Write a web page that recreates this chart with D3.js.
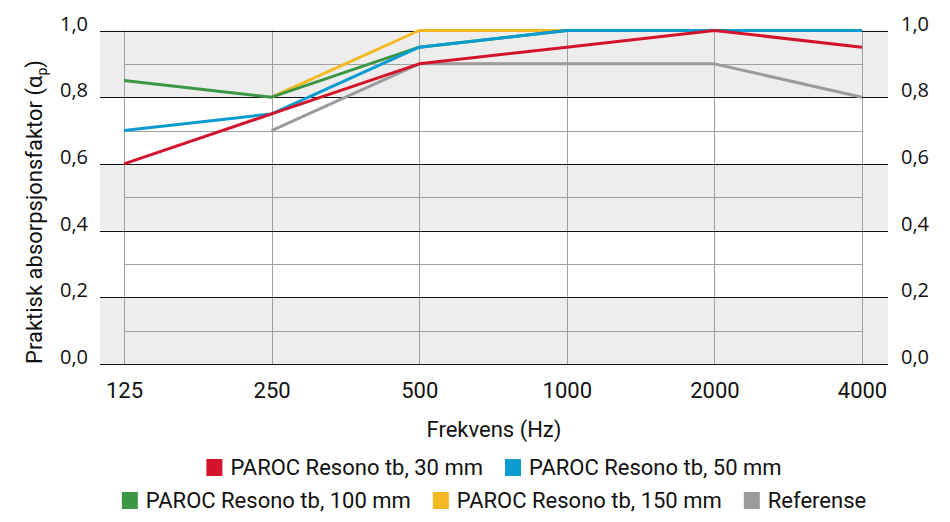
<!DOCTYPE html>
<html>
<head>
<meta charset="utf-8">
<script src="https://cdn.jsdelivr.net/npm/d3@7"></script>
<style>
  body { margin: 0; background: #fff; }
  svg { display: block; }
  .tick-label { font-family: "Open Sans", sans-serif; font-size: 20px; fill: #111; }
  .cat-label, .axis-title, .legend text { font-family: Roboto, sans-serif; font-size: 22px; fill: #111; }
</style>
</head>
<body>
<div id="chart"></div>
<script>
// data
const freqs = ['125', '250', '500', '1000', '2000', '4000'];
const seriesNames = ['PAROC Resono tb, 30 mm', 'PAROC Resono tb, 50 mm', 'PAROC Resono tb, 100 mm', 'PAROC Resono tb, 150 mm', 'Referense'];
const resono30 = [0.60, 0.75, 0.90, 0.95, 1.00, 0.95];
const resono50 = [0.70, 0.75, 0.95, 1.00, 1.00, 1.00];
const resono100 = [0.85, 0.80, 0.95, 1.00, 1.00, 1.00];
const resono150 = [null, 0.80, 1.00, 1.00, 1.00, 1.00];
const referense = [null, 0.70, 0.90, 0.90, 0.90, 0.80];
const majorTicks = [0, 0.2, 0.4, 0.6, 0.8, 1.0];
const minorTicks = [0.1, 0.3, 0.5, 0.7, 0.9];
const colors = ['#d3132a', '#0a9bd0', '#3c9745', '#f4b822', '#9b9b9b'];

const series = [resono30, resono50, resono100, resono150, referense].map((vals, i) => ({
    name: seriesNames[i],
    color: colors[i],
    values: vals.map((v, j) => ({ f: freqs[j], v: v }))
}));

const width = 950, height = 522;
const plotLeft = 100, plotRight = 888;

const svg = d3.select('#chart')
    .append('svg')
    .attr('width', width)
    .attr('height', height);

const x = d3.scalePoint()
    .domain(freqs)
    .range([124, 862]);

const y = d3.scaleLinear()
    .domain([0, 1])
    .range([364, 30.5]);

const fmt = d => d.toFixed(1).replace('.', ',');

// grey bands
const bands = [[0, 0.2], [0.4, 0.6], [0.8, 1.0]];
svg.append('g')
    .selectAll('rect')
    .data(bands)
    .join('rect')
    .attr('x', plotLeft)
    .attr('width', plotRight - plotLeft)
    .attr('y', d => y(d[1]))
    .attr('height', d => y(d[0]) - y(d[1]))
    .attr('fill', '#ededed');

// minor gridlines
svg.append('g')
    .selectAll('line')
    .data(minorTicks)
    .join('line')
    .attr('x1', x(freqs[0]))
    .attr('x2', x(freqs[freqs.length - 1]))
    .attr('y1', d => Math.round(y(d)) + 0.5)
    .attr('y2', d => Math.round(y(d)) + 0.5)
    .attr('stroke', '#a0a0a0')
    .attr('stroke-width', 1);

// vertical gridlines
svg.append('g')
    .selectAll('line')
    .data(freqs)
    .join('line')
    .attr('x1', d => Math.round(x(d)) + 0.5)
    .attr('x2', d => Math.round(x(d)) + 0.5)
    .attr('y1', y(1))
    .attr('y2', y(0))
    .attr('stroke', '#a0a0a0')
    .attr('stroke-width', 1);

// major gridlines
svg.append('g')
    .selectAll('line')
    .data(majorTicks)
    .join('line')
    .attr('x1', plotLeft)
    .attr('x2', plotRight)
    .attr('y1', d => Math.round(y(d)) + 0.5)
    .attr('y2', d => Math.round(y(d)) + 0.5)
    .attr('stroke', '#111')
    .attr('stroke-width', 1);

// y tick labels, both sides
svg.append('g')
    .selectAll('text')
    .data(majorTicks)
    .join('text')
    .attr('class', 'tick-label')
    .attr('x', 88)
    .attr('y', d => y(d))
    .attr('text-anchor', 'end')
    .text(fmt);

svg.append('g')
    .selectAll('text')
    .data(majorTicks)
    .join('text')
    .attr('class', 'tick-label')
    .attr('x', 901)
    .attr('y', d => y(d))
    .text(fmt);

// x axis labels
svg.append('g')
    .call(d3.axisBottom(x).tickSize(0).tickPadding(0))
    .attr('transform', 'translate(0,398)')
    .call(g => g.select('.domain').remove())
    .selectAll('text')
    .attr('class', 'cat-label')
    .attr('dy', 0)
    .attr('fill', '#111');

// lines, drawn so that the overlaps match
const line = d3.line()
    .defined(d => d.v !== null)
    .x(d => x(d.f))
    .y(d => y(d.v));

const drawOrder = [4, 3, 2, 1, 0];
svg.append('g')
    .selectAll('path')
    .data(drawOrder.map(i => series[i]))
    .join('path')
    .attr('d', d => line(d.values))
    .attr('fill', 'none')
    .attr('stroke', d => d.color)
    .attr('stroke-width', 3)
    .attr('stroke-linejoin', 'round');

// axis titles
svg.append('text')
    .attr('class', 'axis-title')
    .attr('x', 494)
    .attr('y', 437)
    .attr('text-anchor', 'middle')
    .text('Frekvens (Hz)');

const yTitle = svg.append('text')
    .attr('class', 'axis-title')
    .attr('transform', 'translate(42,212) rotate(-90)')
    .attr('text-anchor', 'middle');
yTitle.append('tspan').text('Praktisk absorpsjonsfaktor (α');
yTitle.append('tspan').attr('font-size', 14).attr('dy', 5).text('p');
yTitle.append('tspan').attr('dy', -5).text(')');

// legend, two centred rows
const legendRows = [[0, 1], [2, 3, 4]];
const rowBaselines = [475, 508];
const legend = svg.append('g').attr('class', 'legend');

legendRows.forEach((row, r) => {
    const g = legend.append('g');
    let cx = 0;
    row.forEach((i, k) => {
        const item = g.append('g').attr('transform', `translate(${cx},0)`);
        item.append('rect')
            .attr('x', 0)
            .attr('y', rowBaselines[r] - 16)
            .attr('width', 16)
            .attr('height', 17)
            .attr('fill', series[i].color);
        const t = item.append('text')
            .attr('x', 24)
            .attr('y', rowBaselines[r])
            .text(series[i].name);
        cx += 24 + t.node().getComputedTextLength() + (k < row.length - 1 ? 22 : 0);
    });
    g.attr('transform', `translate(${494 - cx / 2},0)`);
});
</script>
</body>
</html>
